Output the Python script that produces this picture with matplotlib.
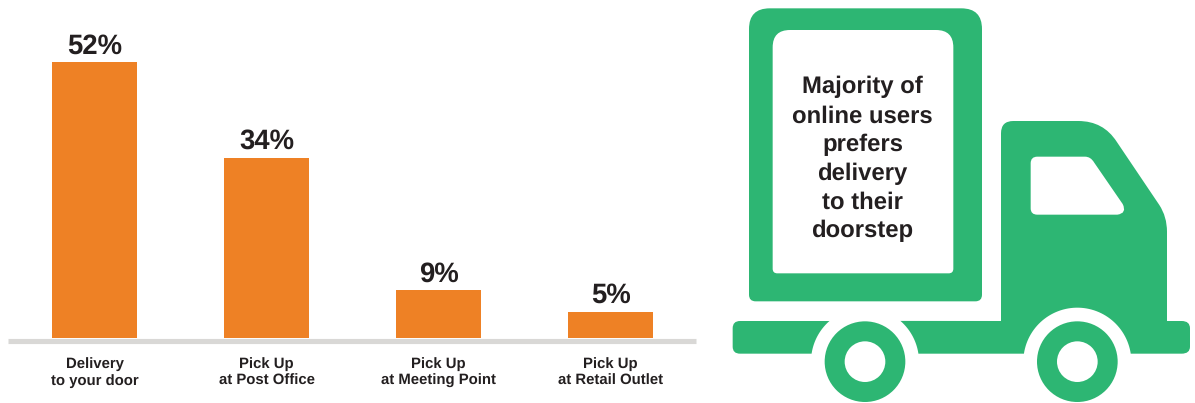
import numpy as np
import matplotlib
matplotlib.use("Agg")
import matplotlib.pyplot as plt
from matplotlib.path import Path
from matplotlib.patches import PathPatch, Circle

plt.rcParams["font.family"] = ["Liberation Sans", "DejaVu Sans"]
plt.rcParams["text.hinting"] = "no_hinting"

categories = ["Delivery\nto your door", "Pick Up\nat Post Office",
              "Pick Up\nat Meeting Point", "Pick Up\nat Retail Outlet"]
shares = [52, 34, 9, 5]
truck_lines = ["Majority of", "online users", "prefers", "delivery", "to their", "doorstep"]

ORANGE = "#EE8125"
GREEN = "#2DB673"
GREY = "#D9D8D6"
INK = "#231F20"

W, H = 1195, 403
fig = plt.figure(figsize=(W / 100, H / 100), dpi=100, facecolor="white")

# Bar chart: baseline sits at y=338 px, plot spans x=8..696 px
ax = fig.add_axes([8 / W, (H - 338) / H, 688 / W, 338 / H])
ax.bar(range(len(shares)), shares, width=0.498, color=ORANGE, zorder=3)
ax.set_xlim(-0.503, 3.497)
ax.set_ylim(0, 338 / 5.3)
for name in ("top", "left", "right"):
    ax.spines[name].set_visible(False)
ax.spines["bottom"].set_color(GREY)
ax.spines["bottom"].set_linewidth(3.7)
ax.spines["bottom"].set_position(("outward", 1.85))
ax.spines["bottom"].set_capstyle("butt")
ax.patch.set_alpha(0)
# Moving a spine resets the ticks, so the labels are styled afterwards
ax.set_xticks(range(len(categories)), categories, fontweight="bold", linespacing=1.22)
ax.set_yticks([])
ax.tick_params(axis="x", length=0, pad=12.2, labelsize=10.7, labelcolor=INK)
for i, v in enumerate(shares):
    ax.annotate(f"{v}%", (i, v), xytext=(0.4, 6.5), textcoords="offset points",
                ha="center", va="baseline", fontsize=19.8, fontweight="bold",
                color=INK, zorder=4)

# Truck pictogram, drawn in pixel coordinates on a full-figure layer
pic = fig.add_axes([0, 0, 1, 1], zorder=-1)
pic.set_xlim(0, W)
pic.set_ylim(H, 0)
pic.axis("off")


def px(x, y):
    return (720 + x / 3, y / 3)


def arc(cx, cy, r, a0, a1, n=40):
    t = np.radians(np.linspace(a0, a1, n))
    return [(cx + r * np.cos(a), cy + r * np.sin(a)) for a in t]


def outline(segments):
    """Build a closed path from straight points and quadratic corners."""
    verts, codes = [], []
    for seg in segments:
        if seg[0] == "L":
            for p in seg[1]:
                codes.append(Path.LINETO if verts else Path.MOVETO)
                verts.append(px(*p))
        else:
            verts += [px(*seg[1]), px(*seg[2])]
            codes += [Path.CURVE3, Path.CURVE3]
    verts.append(verts[0])
    codes.append(Path.CLOSEPOLY)
    return Path(verts, codes)


def rounded(x0, y0, x1, y1, rt, rb):
    return outline([
        ("L", [(x0 + rt, y0), (x1 - rt, y0)]), ("Q", (x1, y0), (x1, y0 + rt)),
        ("L", [(x1, y1 - rb)]), ("Q", (x1, y1), (x1 - rb, y1)),
        ("L", [(x0 + rb, y1)]), ("Q", (x0, y1), (x0, y1 - rb)),
        ("L", [(x0, y0 + rt)]), ("Q", (x0, y0), (x0 + rt, y0)),
    ])


def fill(path, color, z=1):
    pic.add_patch(PathPatch(path, facecolor=color, edgecolor="none", zorder=z))


# Cargo box with its white panel
fill(rounded(87, 25, 786, 904, 62, 20), GREEN)
fill(rounded(158, 90, 700, 820, 52, 14), "white", 2)

WX0, WX1, WY, WR = 435, 1072, 1085, 162

# Left stub of the chassis
fill(outline([
    ("L", [(60, 963), (330, 963)]),
    ("L", arc(WX0, WY, WR, 229, 188.5)),
    ("L", [(60, 1061)]), ("Q", (38, 1061), (38, 1040)),
    ("L", [(38, 985)]), ("Q", (38, 963), (60, 963)),
]), GREEN)

# Cab and the rest of the chassis
fill(outline([
    ("L", [(843, 963), (843, 400)]), ("Q", (843, 363), (880, 363)),
    ("L", [(1075, 363)]), ("Q", (1150, 363), (1190, 425)),
    ("L", [(1318, 615)]), ("Q", (1341, 650), (1341, 695)),
    ("L", [(1341, 963), (1385, 963)]), ("Q", (1410, 963), (1410, 985)),
    ("L", [(1410, 1040)]), ("Q", (1410, 1061), (1385, 1061)),
    ("L", arc(WX1, WY, WR, -8.5, -171.5, 60)),
    ("L", arc(WX0, WY, WR, 351.5, 311)),
    ("L", [(843, 963)]),
]), GREEN)

# Cab window
fill(outline([
    ("L", [(952, 470), (1095, 470)]), ("Q", (1112, 470), (1122, 487)),
    ("L", [(1208, 612)]), ("Q", (1222, 640), (1192, 644)),
    ("L", [(952, 644)]), ("Q", (932, 644), (932, 625)),
    ("L", [(932, 490)]), ("Q", (932, 470), (952, 470)),
]), "white", 2)

# Wheels
for wx in (WX0, WX1):
    c = px(wx, WY)
    pic.add_patch(Circle(c, 121 / 3, facecolor=GREEN, edgecolor="none", zorder=2))
    pic.add_patch(Circle(c, 61 / 3, facecolor="white", edgecolor="none", zorder=3))

# Caption inside the cargo panel
for k, line in enumerate(truck_lines):
    pic.text(862.5, 93.5 + k * 28.8, line, ha="center", va="baseline",
             fontsize=17.2, fontweight="bold", color=INK, zorder=4)

fig.savefig("out.png", dpi=100, facecolor="white")
